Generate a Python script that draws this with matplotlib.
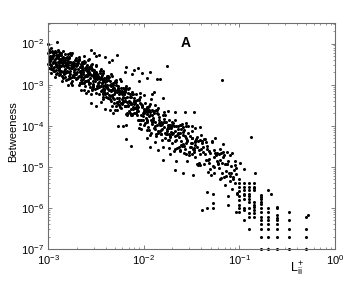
import numpy as np
import matplotlib
matplotlib.use('Agg')
import matplotlib.pyplot as plt

plt.rcParams['font.family'] = ['Liberation Sans', 'DejaVu Sans']
plt.rcParams['mathtext.fontset'] = 'custom'
plt.rcParams['mathtext.rm'] = 'Liberation Sans'
plt.rcParams['mathtext.it'] = 'Liberation Sans:italic'
plt.rcParams['mathtext.bf'] = 'Liberation Sans:bold'

# values, stored as log10 (L_ii+ , betweenness)
# main band, rows of ten
band_lx = [
    -2.99, -2.97, -2.95, -2.92, -2.90, -2.87, -2.85, -2.82, -2.79, -2.76,
    -2.98, -2.96, -2.93, -2.91, -2.88, -2.86, -2.83, -2.81, -2.78, -2.75,
    -3.00, -2.97, -2.94, -2.92, -2.89, -2.86, -2.84, -2.81, -2.79, -2.77,
    -2.99, -2.96, -2.94, -2.91, -2.89, -2.87, -2.84, -2.82, -2.80, -2.77,
    -2.98, -2.95, -2.93, -2.90, -2.88, -2.85, -2.83, -2.80, -2.78, -2.76,
    -2.97, -2.95, -2.92, -2.90, -2.87, -2.85, -2.83, -2.80, -2.78, -2.75,
    -3.00, -2.98, -2.95, -2.93, -2.91, -2.88, -2.86, -2.84, -2.81, -2.79,
    -2.99, -2.96, -2.94, -2.91, -2.89, -2.86, -2.84, -2.82, -2.79, -2.77,
    -2.98, -2.97, -2.93, -2.92, -2.88, -2.87, -2.83, -2.82, -2.78, -2.76,
    -2.96, -2.94, -2.91, -2.89, -2.86, -2.84, -2.81, -2.79, -2.77, -2.75,
    -3.00, -2.97, -2.95, -2.92, -2.90, -2.87, -2.85, -2.82, -2.80, -2.77,
    -2.99, -2.97, -2.94, -2.92, -2.89, -2.87, -2.84, -2.81, -2.79, -2.76,
    -2.74, -2.72, -2.69, -2.67, -2.64, -2.62, -2.59, -2.57, -2.54, -2.51,
    -2.73, -2.71, -2.68, -2.66, -2.63, -2.61, -2.58, -2.56, -2.53, -2.50,
    -2.75, -2.72, -2.70, -2.67, -2.65, -2.62, -2.60, -2.57, -2.55, -2.52,
    -2.74, -2.71, -2.69, -2.66, -2.64, -2.61, -2.59, -2.56, -2.54, -2.51,
    -2.73, -2.70, -2.68, -2.65, -2.63, -2.60, -2.58, -2.55, -2.53, -2.50,
    -2.75, -2.73, -2.70, -2.68, -2.65, -2.63, -2.60, -2.58, -2.55, -2.53,
    -2.74, -2.72, -2.69, -2.67, -2.64, -2.62, -2.59, -2.57, -2.54, -2.52,
    -2.73, -2.71, -2.68, -2.66, -2.63, -2.61, -2.58, -2.56, -2.53, -2.51,
    -2.72, -2.70, -2.67, -2.64, -2.62, -2.59, -2.57, -2.54, -2.52, -2.50,
    -2.74, -2.71, -2.69, -2.66, -2.64, -2.61, -2.58, -2.56, -2.53, -2.51,
    -2.49, -2.47, -2.44, -2.42, -2.39, -2.37, -2.34, -2.32, -2.29, -2.26,
    -2.48, -2.46, -2.43, -2.41, -2.38, -2.36, -2.33, -2.31, -2.28, -2.25,
    -2.50, -2.47, -2.45, -2.42, -2.40, -2.37, -2.35, -2.32, -2.30, -2.27,
    -2.49, -2.46, -2.44, -2.41, -2.39, -2.36, -2.34, -2.31, -2.29, -2.26,
    -2.48, -2.45, -2.43, -2.40, -2.38, -2.35, -2.33, -2.30, -2.28, -2.25,
    -2.50, -2.48, -2.45, -2.43, -2.40, -2.38, -2.35, -2.33, -2.30, -2.28,
    -2.49, -2.47, -2.44, -2.42, -2.39, -2.37, -2.34, -2.32, -2.29, -2.27,
    -2.48, -2.46, -2.43, -2.41, -2.38, -2.36, -2.33, -2.31, -2.28, -2.26,
    -2.24, -2.22, -2.19, -2.17, -2.14, -2.12, -2.09, -2.07, -2.04, -2.01,
    -2.23, -2.21, -2.18, -2.16, -2.13, -2.11, -2.08, -2.06, -2.03, -2.00,
    -2.25, -2.22, -2.20, -2.17, -2.15, -2.12, -2.10, -2.07, -2.05, -2.02,
    -2.24, -2.21, -2.19, -2.16, -2.14, -2.11, -2.09, -2.06, -2.04, -2.01,
    -2.23, -2.20, -2.18, -2.15, -2.13, -2.10, -2.08, -2.05, -2.03, -2.00,
    -2.25, -2.23, -2.20, -2.18, -2.15, -2.13, -2.10, -2.08, -2.05, -2.03,
    -2.24, -2.22, -2.19, -2.17, -2.14, -2.12, -2.09, -2.07, -2.04, -2.02,
    -1.99, -1.97, -1.94, -1.92, -1.89, -1.87, -1.84, -1.82, -1.79, -1.76,
    -1.98, -1.96, -1.93, -1.91, -1.88, -1.86, -1.83, -1.81, -1.78, -1.75,
    -2.00, -1.97, -1.95, -1.92, -1.90, -1.87, -1.85, -1.82, -1.80, -1.77,
    -1.99, -1.96, -1.94, -1.91, -1.89, -1.86, -1.84, -1.81, -1.79, -1.76,
    -1.98, -1.95, -1.93, -1.90, -1.88, -1.85, -1.83, -1.80, -1.78, -1.75,
    -1.97, -1.94, -1.91, -1.88, -1.85, -1.82, -1.79,
    -1.74, -1.72, -1.69, -1.67, -1.64, -1.62, -1.59, -1.57, -1.54, -1.51,
    -1.73, -1.71, -1.68, -1.66, -1.63, -1.61, -1.58, -1.56, -1.53, -1.50,
    -1.75, -1.72, -1.70, -1.67, -1.65, -1.62, -1.60, -1.57, -1.55, -1.52,
    -1.74, -1.71, -1.69, -1.66, -1.64, -1.61, -1.59, -1.56, -1.54, -1.51,
    -1.73, -1.70, -1.67, -1.64, -1.61, -1.58, -1.55,
    -1.49, -1.47, -1.44, -1.42, -1.39, -1.37, -1.34, -1.32, -1.29, -1.26,
    -1.48, -1.46, -1.43, -1.41, -1.38, -1.36, -1.33, -1.31, -1.28, -1.25,
    -1.50, -1.47, -1.45, -1.42, -1.40, -1.37, -1.35, -1.32, -1.30, -1.27,
    -1.49, -1.46, -1.44, -1.41, -1.39, -1.36, -1.34, -1.31,
    -1.24, -1.22, -1.20, -1.18, -1.16, -1.14, -1.12, -1.10, -1.08, -1.06,
    -1.23, -1.21, -1.19, -1.17, -1.15, -1.13, -1.11, -1.09, -1.07, -1.05,
    -1.25, -1.22, -1.19, -1.16, -1.13, -1.10, -1.07, -1.04, -1.02,
    -1.21, -1.17, -1.13, -1.09, -1.05, -1.03,
    # second pass over the crowded middle of the band
    -2.95, -2.91, -2.88, -2.84, -2.80, -2.77, -2.73, -2.70, -2.66, -2.62,
    -2.93, -2.89, -2.86, -2.82, -2.79, -2.75, -2.71, -2.68, -2.64, -2.61,
    -2.60, -2.57, -2.54, -2.51, -2.48, -2.45, -2.42, -2.39, -2.36, -2.33,
    -2.59, -2.56, -2.53, -2.50, -2.47, -2.44, -2.41, -2.38, -2.35, -2.32,
    -2.58, -2.55, -2.52, -2.49, -2.46, -2.43, -2.40, -2.37, -2.34, -2.31,
    -2.30, -2.27, -2.24, -2.21, -2.18, -2.15, -2.12, -2.09, -2.06, -2.03,
    -2.29, -2.26, -2.23, -2.20, -2.17, -2.14, -2.11, -2.08, -2.05, -2.02,
    -2.28, -2.25, -2.22, -2.19, -2.16, -2.13, -2.10, -2.07, -2.04, -2.01,
    -2.00, -1.97, -1.94, -1.91, -1.88, -1.85, -1.82, -1.79, -1.76, -1.73,
    -1.99, -1.96, -1.93, -1.90, -1.87, -1.84, -1.81, -1.78, -1.75, -1.72,
    -1.71, -1.68, -1.65, -1.62, -1.59, -1.56, -1.53, -1.50, -1.47, -1.44,
    -1.70, -1.67, -1.64, -1.61, -1.58, -1.55, -1.52, -1.49, -1.46, -1.43,
    -1.41, -1.38, -1.35, -1.32, -1.29, -1.26, -1.23, -1.20, -1.17, -1.14,
    -2.85, -2.81, -2.78, -2.74, -2.71, -2.67, -2.64, -2.60, -2.57, -2.53,
    -2.44, -2.41, -2.37, -2.34, -2.30, -2.27, -2.23, -2.20, -2.16, -2.13,
    -2.10, -2.07, -2.03, -2.00, -1.96, -1.93, -1.89, -1.86, -1.82, -1.79,
    -2.41, -2.38, -2.34, -2.31, -2.27, -2.24, -2.20, -2.17, -2.13, -2.10,
    -1.77, -1.74, -1.70, -1.67, -1.63, -1.60, -1.56, -1.53, -1.49, -1.46,
]
band_ly = [
    -2.36, -2.54, -2.22, -2.49, -2.33, -2.75, -2.44, -2.72, -2.26, -2.59,
    -2.49, -2.31, -2.81, -2.28, -2.52, -2.24, -2.68, -2.51, -2.79, -2.50,
    -2.02, -2.51, -2.29, -2.75, -2.48, -2.27, -2.69, -2.48, -3.01, -2.45,
    -2.59, -2.34, -2.43, -2.57, -2.29, -2.55, -2.40, -2.82, -2.39, -2.66,
    -2.31, -2.64, -2.18, -2.45, -2.65, -2.34, -2.55, -2.33, -2.69, -2.53,
    -2.72, -2.30, -2.52, -2.15, -2.70, -2.51, -2.44, -2.69, -2.32, -2.82,
    -2.23, -2.42, -2.60, -2.37, -2.71, -2.21, -2.55, -2.33, -2.88, -2.46,
    -2.43, -2.19, -2.57, -2.33, -2.43, -2.68, -2.18, -2.61, -2.53, -2.84,
    -2.21, -2.61, -2.46, -2.20, -2.59, -2.38, -2.75, -2.39, -2.60, -2.29,
    -2.36, -2.68, -2.29, -2.63, -2.41, -2.84, -2.50, -2.38, -2.75, -2.60,
    -2.50, -2.11, -2.48, -2.65, -2.36, -2.43, -2.78, -2.26, -2.56, -2.44,
    -2.15, -2.38, -2.67, -2.35, -2.57, -2.29, -2.51, -2.70, -2.48, -2.96,
    -2.56, -2.74, -2.43, -2.70, -2.55, -2.97, -2.67, -2.95, -2.49, -2.84,
    -2.69, -2.51, -3.01, -2.49, -2.73, -2.46, -2.90, -2.74, -3.02, -2.75,
    -2.22, -2.71, -2.48, -2.96, -2.68, -2.48, -2.90, -2.70, -3.23, -2.69,
    -2.79, -2.54, -2.63, -2.78, -2.50, -2.78, -2.62, -3.06, -2.63, -2.92,
    -2.51, -2.84, -2.38, -2.66, -2.86, -2.56, -2.77, -2.56, -2.92, -2.79,
    -2.90, -2.48, -2.70, -2.33, -2.89, -2.70, -2.64, -2.89, -2.53, -3.03,
    -2.44, -2.62, -2.81, -2.58, -2.94, -2.43, -2.79, -2.57, -3.13, -2.71,
    -2.64, -2.39, -2.78, -2.54, -2.65, -2.90, -2.41, -2.85, -2.77, -3.10,
    -2.41, -2.83, -2.67, -2.44, -2.81, -2.62, -2.98, -2.64, -2.84, -2.55,
    -2.54, -2.86, -2.47, -2.82, -2.60, -3.04, -2.71, -2.59, -2.98, -2.84,
    -2.86, -3.06, -2.76, -3.04, -2.90, -3.33, -3.04, -3.33, -2.88, -3.24,
    -3.00, -2.83, -3.34, -2.83, -3.08, -2.82, -3.27, -3.12, -3.42, -3.15,
    -2.52, -3.03, -2.81, -3.30, -3.03, -2.84, -3.27, -3.08, -3.62, -3.10,
    -3.09, -2.86, -2.96, -3.12, -2.85, -3.14, -2.99, -3.44, -3.02, -3.32,
    -2.82, -3.16, -2.71, -3.00, -3.21, -2.92, -3.14, -2.94, -3.32, -3.19,
    -3.20, -2.79, -3.03, -2.66, -3.24, -3.05, -3.01, -3.26, -2.92, -3.44,
    -2.74, -2.94, -3.14, -2.92, -3.29, -2.79, -3.16, -2.95, -3.52, -3.12,
    -2.95, -2.71, -3.11, -2.88, -3.00, -3.26, -2.78, -3.23, -3.17, -3.50,
    -3.21, -3.42, -3.13, -3.42, -3.29, -3.73, -3.45, -3.75, -3.31, -3.68,
    -3.35, -3.19, -3.71, -3.21, -3.47, -3.22, -3.68, -3.54, -3.85, -3.59,
    -2.87, -3.39, -3.18, -3.68, -3.42, -3.24, -3.68, -3.50, -4.05, -3.53,
    -3.44, -3.22, -3.33, -3.50, -3.24, -3.54, -3.40, -3.86, -3.45, -3.76,
    -3.17, -3.53, -3.08, -3.39, -3.60, -3.33, -3.55, -3.37, -3.75, -3.63,
    -3.55, -3.15, -3.40, -3.04, -3.63, -3.45, -3.42, -3.68, -3.35, -3.87,
    -3.09, -3.30, -3.51, -3.30, -3.68, -3.19, -3.57, -3.37, -3.95, -3.55,
    -3.65, -3.89, -3.53, -3.87, -3.69, -4.21, -3.85, -4.21, -3.66, -4.09,
    -3.81, -3.63, -4.23, -3.62, -3.91, -3.61, -4.14, -3.96, -4.30, -3.98,
    -3.25, -3.86, -3.59, -4.18, -3.85, -3.62, -4.13, -3.91, -4.52, -3.91,
    -3.93, -3.66, -3.77, -3.97, -3.63, -3.99, -3.79, -4.35, -3.83, -4.19,
    -3.60, -4.02, -3.47, -3.82, -4.07, -3.72, -3.98, -3.74, -4.18, -4.03,
    -4.10, -3.62, -3.92, -3.49, -4.18, -3.98, -3.91,
    -4.06, -4.28, -3.93, -4.25, -4.07, -4.58, -4.22, -4.56, -4.01, -4.41,
    -4.21, -4.02, -4.62, -4.00, -4.28, -3.98, -4.50, -4.31, -4.64, -4.31,
    -3.65, -4.25, -3.98, -4.56, -4.22, -3.99, -4.49, -4.26, -4.86, -4.24,
    -4.34, -4.05, -4.17, -4.35, -4.01, -4.36, -4.16, -4.70, -4.18, -4.51,
    -3.99, -4.41, -3.87, -4.21, -4.47, -4.10, -4.37,
    -4.41, -4.63, -4.27, -4.60, -4.42, -4.92, -4.56, -4.91, -4.36, -4.76,
    -4.56, -4.36, -4.96, -4.35, -4.63, -4.32, -4.84, -4.66, -4.99, -4.66,
    -4.00, -4.60, -4.32, -4.91, -4.57, -4.33, -4.83, -4.61, -5.21, -4.59,
    -4.69, -4.39, -4.51, -4.70, -4.36, -4.70, -4.50, -5.05,
    -4.71, -4.94, -4.57, -4.91, -4.72, -5.23, -4.87, -5.22, -4.66, -5.07,
    -4.86, -4.68, -5.27, -4.65, -4.94, -4.63, -5.15, -4.97, -5.30, -4.96,
    -4.30, -4.91, -4.66, -5.25, -4.94, -4.71, -5.24, -5.02, -5.63,
    -5.04, -4.77, -4.93, -5.14, -4.85, -5.18,
    # second pass
    -2.44, -2.29, -2.77, -2.44, -2.67, -2.24, -2.82, -2.53, -2.74, -3.12,
    -2.21, -2.64, -2.45, -2.34, -2.87, -2.58, -2.73, -2.39, -2.95, -2.60,
    -2.76, -2.62, -3.11, -2.80, -3.04, -2.63, -3.21, -2.92, -3.14, -3.52,
    -2.53, -2.96, -2.80, -2.70, -3.24, -2.95, -3.11, -2.78, -3.34, -3.00,
    -3.15, -2.76, -2.65, -3.04, -2.67, -3.24, -2.93, -3.10, -2.74, -3.34,
    -3.18, -3.03, -3.58, -3.23, -3.51, -3.07, -3.71, -3.40, -3.63, -4.07,
    -2.93, -3.41, -3.23, -3.13, -3.73, -3.42, -3.59, -3.24, -3.86, -3.50,
    -3.62, -3.18, -3.08, -3.51, -3.11, -3.73, -3.40, -3.59, -3.21, -3.87,
    -3.70, -3.55, -4.10, -3.74, -4.01, -3.57, -4.21, -3.90, -4.12, -4.54,
    -3.45, -3.92, -3.74, -3.64, -4.24, -3.93, -4.09, -3.73, -4.35, -3.98,
    -4.15, -4.00, -4.54, -4.18, -4.44, -4.00, -4.63, -4.31, -4.53, -4.94,
    -3.90, -4.37, -4.18, -4.08, -4.67, -4.35, -4.51, -4.14, -4.75, -4.37,
    -4.96, -4.51, -4.39, -4.81, -4.39, -5.00, -4.66, -4.84, -4.44, -5.09,
    -2.92, -2.47, -2.34, -2.76, -2.34, -2.95, -2.60, -2.78, -2.38, -3.05,
    -2.86, -3.10, -2.89, -3.40, -3.13, -3.08, -3.48, -3.09, -3.52, -3.47,
    -3.40, -3.64, -3.46, -3.98, -3.71, -3.66, -4.06, -3.68, -4.10, -4.04,
    -3.18, -2.81, -3.14, -3.08, -3.47, -2.92, -3.41, -3.71, -3.30, -3.48,
    -4.21, -3.85, -4.19, -4.12, -4.51, -3.95, -4.43, -4.72, -4.29, -4.46,
]

# scattered points away from the band
outlier_lx = [
    -2.91, -2.55, -2.50, -2.52, -2.62, -2.47, -2.28, -2.40, -2.33, -2.36,
    -2.55, -2.50, -2.45, -2.40, -2.35, -2.32, -2.66, -2.60, -2.75,
    -2.27, -2.22, -2.18, -2.18, -2.13,
    -2.12, -2.05, -2.20, -2.18, -2.10, -2.02, -2.06,
    -1.97, -1.93, -1.86, -1.83, -1.76, -1.91, -1.89, -1.80, -1.92,
    -1.80, -1.85, -1.93, -1.88, -1.97,
    -1.67, -1.57, -1.47, -1.56, -1.59, -1.46, -1.41, -1.40,
    -1.67, -1.59, -1.72, -1.66, -1.62,
    -1.39, -1.34, -1.28, -1.28, -1.34, -1.28, -1.12, -1.04,
    -1.48, -1.33, -1.26, -1.18,
    -1.20, -1.15, -1.10, -1.08, -1.05, -1.12, -1.02,
    -1.18, -0.88, -0.99, -0.95, -0.84, -0.67, -0.28,
]
outlier_ly = [
    -1.96, -2.16, -2.30, -2.22, -2.30, -2.27, -2.28, -2.33, -2.40, -2.44,
    -3.45, -3.52, -3.43, -3.60, -3.62, -3.69, -3.13, -3.20, -3.00,
    -4.00, -4.00, -3.98, -4.32, -4.49,
    -2.75, -2.90, -2.70, -2.58, -2.65, -2.72, -2.60,
    -2.84, -2.69, -2.86, -2.86, -2.55, -3.23, -3.18, -3.33, -3.35,
    -4.83, -4.60, -4.52, -4.40, -4.30,
    -3.67, -3.67, -3.67, -3.93, -4.03, -4.06, -4.03, -4.23,
    -5.08, -5.15, -4.70, -4.85, -4.62,
    -6.05, -6.00, -6.00, -5.88, -5.61, -5.66, -5.93, -6.10,
    -5.20, -5.13, -5.15, -5.15,
    -5.30, -5.45, -5.35, -5.55, -5.40, -5.70, -5.65,
    -2.89, -4.27, -4.91, -5.05, -5.15, -5.67, -6.17,
]

# discrete tail: L_ii+ = 1/k columns
tail_lii = [0.1, 0.111, 0.125, 0.143, 0.167, 0.2, 0.25, 0.333, 0.5]
tail_ly = [
    [-5.30, -5.40, -5.50, -5.60, -5.70, -5.80, -5.92, -6.00, -6.10],
    [-5.40, -5.48, -5.56, -5.65, -5.69, -5.78, -6.00, -6.05, -6.29],
    [-5.40, -5.48, -5.56, -5.65, -5.70, -5.78, -5.86, -6.00, -6.13, -6.21, -6.52],
    [-5.40, -5.48, -5.52, -5.56, -5.85, -5.93, -5.99, -6.05, -6.13, -6.21],
    [-5.69, -5.73, -5.78, -5.85, -5.91, -6.00, -6.10, -6.22, -6.30, -6.40, -6.52, -6.70, -7.00],
    [-5.56, -6.00, -6.10, -6.22, -6.30, -6.40, -6.52, -6.70, -7.00],
    [-5.97, -6.00, -6.17, -6.25, -6.30, -6.40, -6.52, -6.70, -7.00],
    [-6.10, -6.30, -6.52, -6.70, -7.00],
    [-6.22, -6.52, -6.70, -7.00],
]

x = 10.0 ** np.array(band_lx + outlier_lx)
y = 10.0 ** np.array(band_ly + outlier_ly)
tx = np.concatenate([[v] * len(col) for v, col in zip(tail_lii, tail_ly)])
ty = 10.0 ** np.concatenate(tail_ly)

fig = plt.figure(figsize=(3.46, 2.81), dpi=100)
ax = fig.add_axes([48 / 346, 32 / 281, 287 / 346, 226 / 281])

ax.plot(np.concatenate([x, tx]), np.concatenate([y, ty]), 'o', color='black',
        ms=2.2, mew=0, clip_on=False)

ax.set_xscale('log')
ax.set_yscale('log')
ax.set_xlim(1e-3, 1)
ax.set_ylim(1e-7, 10 ** -1.5)

axcol = '#6e6e6e'
for s in ax.spines.values():
    s.set_color(axcol)
    s.set_linewidth(0.8)
ax.tick_params(which='both', direction='in', top=True, right=True,
               color=axcol, labelsize=8, labelcolor='black')
ax.tick_params(which='major', length=3, width=0.6, pad=3)
ax.tick_params(which='minor', length=1.6, width=0.5)

ax.set_ylabel('Betweeness', fontsize=8)
ax.yaxis.set_label_coords(-0.105, 0.52)
ax.set_xlabel(r'$\mathregular{L_{ii}^{+}}$', fontsize=9)
ax.xaxis.set_label_coords(0.868, -0.045)

ax.text(0.48, 0.91, 'A', transform=ax.transAxes, ha='center', va='center',
        fontsize=10, fontweight='bold')

fig.savefig('out.png', dpi=100)
